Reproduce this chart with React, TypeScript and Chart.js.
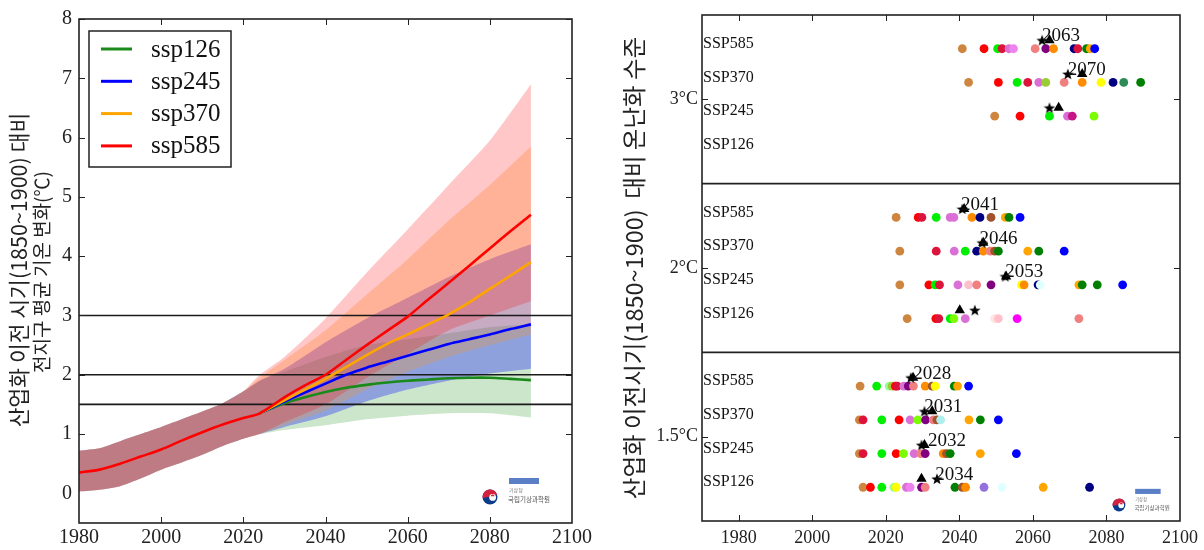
import React, { useEffect, useRef } from 'react';
import { Chart, registerables } from 'chart.js';
Chart.register(...registerables);

const SERIF = "'Liberation Serif', 'Times New Roman', serif";
const KR = "'Noto Sans CJK KR', 'Noto Sans', sans-serif";

// ---------------- Left chart data ----------------
const scenarioNames = ['ssp126', 'ssp245', 'ssp370', 'ssp585'];
const refLevels = [1.5, 2, 3];
const leftYTicks = [0, 1, 2, 3, 4, 5, 6, 7, 8];

const histYears = [1980, 1985, 1990, 1995, 2000, 2005, 2010, 2015, 2020, 2024];
const histMean = [0.35, 0.4, 0.5, 0.62, 0.74, 0.89, 1.03, 1.16, 1.27, 1.35];
const histLow = [0.03, 0.06, 0.12, 0.25, 0.4, 0.52, 0.65, 0.8, 0.92, 1.0];
const histHigh = [0.72, 0.76, 0.88, 1.0, 1.12, 1.25, 1.38, 1.52, 1.72, 1.9];

const scenYears = [2024, 2030, 2035, 2040, 2045, 2050, 2055, 2060, 2065, 2070, 2075, 2080, 2085, 2090];
const ssp126Mean = [1.35, 1.52, 1.62, 1.71, 1.78, 1.83, 1.87, 1.9, 1.92, 1.94, 1.95, 1.95, 1.93, 1.91];
const ssp245Mean = [1.35, 1.55, 1.7, 1.85, 2.0, 2.12, 2.22, 2.32, 2.42, 2.52, 2.6, 2.68, 2.77, 2.85];
const ssp370Mean = [1.35, 1.57, 1.75, 1.93, 2.13, 2.33, 2.52, 2.68, 2.85, 3.02, 3.22, 3.45, 3.67, 3.9];
const ssp585Mean = [1.35, 1.62, 1.82, 2.0, 2.25, 2.5, 2.74, 2.98, 3.27, 3.55, 3.84, 4.13, 4.42, 4.7];

const bandYears = [2024, 2030, 2040, 2050, 2060, 2070, 2080, 2090];
const ssp126Low = [1.0, 1.07, 1.15, 1.25, 1.31, 1.35, 1.35, 1.28];
const ssp126High = [1.9, 2.05, 2.3, 2.5, 2.6, 2.7, 2.8, 2.85];
const ssp245Low = [1.0, 1.12, 1.3, 1.55, 1.75, 1.9, 2.02, 2.1];
const ssp245High = [1.9, 2.1, 2.55, 2.95, 3.3, 3.65, 3.95, 4.2];
const ssp370Low = [1.0, 1.15, 1.4, 1.75, 2.05, 2.3, 2.5, 2.68];
const ssp370High = [1.95, 2.25, 2.75, 3.35, 3.95, 4.6, 5.2, 5.85];
const ssp585Low = [1.0, 1.2, 1.5, 1.95, 2.35, 2.75, 3.0, 3.24];
const ssp585High = [2.0, 2.3, 2.95, 3.72, 4.45, 5.2, 5.95, 6.9];

const leftTitle = ['산업화 이전 시기(1850~1900) 대비', '전지구 평균 기온 변화(℃)'];

// ---------------- Right chart data ----------------
const rowLabels = ['SSP585', 'SSP370', 'SSP245', 'SSP126'];
const levelLabels = ['1.5°C', '2°C', '3°C'];
const rightXTicks = [1980, 2000, 2020, 2040, 2060, 2080, 2100];
const rightTitle = '산업화 이전시기(1850~1900)  대비 온난화 수준';

const PERU = '#cd853f', RED = '#ff0000', LIME = '#00ee00', CRIM = '#dc143c', ORCH = '#da70d6',
  VIOL = '#ee82ee', LCOR = '#f08080', PURP = '#800080', DORG = '#ff8c00', ORG = '#ffa500',
  NAVY = '#000080', GRN = '#008000', SEAG = '#2e8b57', YEL = '#ffff00', BLUE = '#0000ff',
  LAWN = '#7cfc00', MVR = '#c71585', SIEN = '#a0522d', PINK = '#ffc0cb', MROSE = '#ffe4e1',
  MAG = '#ff00ff', MPUR = '#9370db', LCYAN = '#e0ffff', PTURQ = '#afeeee', PGRN = '#98fb98',
  YGRN = '#9acd32';

// 3°C
const y30_585 = [2040.8, 2046.7, 2050.4, 2051.6, 2053.5, 2054.7, 2060.6, 2063.5, 2065.6, 2071.2, 2072.2, 2074.6, 2075.6, 2076.8];
const c30_585 = [PERU, RED, LIME, CRIM, ORCH, VIOL, LCOR, PURP, DORG, NAVY, CRIM, GRN, ORG, BLUE];
const y30_370 = [2042.5, 2050.6, 2055.7, 2058.6, 2061.6, 2063.5, 2068.5, 2073.4, 2078.5, 2081.8, 2084.7, 2089.3];
const c30_370 = [PERU, RED, LIME, CRIM, ORCH, YGRN, LCOR, DORG, YEL, NAVY, SEAG, GRN];
const y30_245 = [2049.6, 2056.5, 2064.5, 2069.4, 2070.7, 2076.6];
const c30_245 = [PERU, RED, LIME, ORCH, MVR, LAWN];
const y30_126: number[] = [];
const c30_126: string[] = [];
// 2°C
const y20_585 = [2022.8, 2028.8, 2029.8, 2033.7, 2037.5, 2038.5, 2043.4, 2045.6, 2048.6, 2052.5, 2053.5, 2056.5];
const c20_585 = [PERU, RED, CRIM, LIME, ORCH, ORCH, DORG, NAVY, SIEN, ORG, GRN, BLUE];
const y20_370 = [2023.8, 2033.7, 2038.6, 2041.6, 2044.7, 2046.5, 2048.4, 2049.6, 2050.6, 2058.6, 2061.6, 2068.5];
const c20_370 = [PERU, CRIM, ORCH, LIME, NAVY, DORG, LCOR, SIEN, GRN, ORG, GRN, BLUE];
const y20_245 = [2023.8, 2031.7, 2033.4, 2034.6, 2039.6, 2042.5, 2044.7, 2048.6, 2056.9, 2057.6, 2061.4, 2062.0, 2072.5, 2073.4, 2077.5, 2084.4];
const c20_245 = [PERU, RED, LIME, CRIM, ORCH, PINK, LCOR, PURP, YEL, DORG, NAVY, LCYAN, ORG, GRN, GRN, BLUE];
const y20_126 = [2025.8, 2033.6, 2034.4, 2037.5, 2038.5, 2041.6, 2049.6, 2050.6, 2055.7, 2072.5];
const c20_126 = [PERU, RED, CRIM, LIME, LAWN, ORCH, MROSE, PINK, MAG, LCOR];
// 1.5°C
const y15_585 = [2013.0, 2017.5, 2020.9, 2021.7, 2022.6, 2023.1, 2024.9, 2026.1, 2027.5, 2030.7, 2032.6, 2033.4, 2038.6, 2039.5, 2042.5];
const c15_585 = [PERU, LIME, PGRN, YGRN, RED, CRIM, ORCH, PURP, LCOR, DORG, SIEN, YEL, GRN, ORG, BLUE];
const y15_370 = [2012.8, 2013.8, 2018.9, 2023.6, 2026.6, 2028.7, 2030.8, 2032.9, 2033.9, 2034.9, 2042.6, 2045.7, 2050.6];
const c15_370 = [PERU, CRIM, LIME, RED, ORCH, LAWN, PURP, LCOR, SIEN, PTURQ, ORG, GRN, BLUE];
const y15_245 = [2012.8, 2013.8, 2018.9, 2022.8, 2024.8, 2027.7, 2029.5, 2030.7, 2035.6, 2036.5, 2037.5, 2045.7, 2055.5];
const c15_245 = [PERU, CRIM, LIME, RED, LAWN, ORCH, LCOR, PURP, DORG, SIEN, GRN, ORG, BLUE];
const y15_126 = [2013.8, 2015.8, 2018.9, 2022.2, 2022.8, 2025.6, 2026.6, 2029.7, 2030.7, 2038.8, 2040.8, 2041.7, 2046.7, 2051.6, 2062.8, 2075.4];
const c15_126 = [PERU, RED, LIME, PGRN, YEL, ORCH, VIOL, PURP, LCOR, GRN, SIEN, DORG, MPUR, LCYAN, ORG, NAVY];

// markers per level, order SSP585, SSP370, SSP245, SSP126
const star15 = [2026.8, 2030.5, 2029.7, 2033.9];
const tri15 = [2027.4, 2032.6, 2030.5, 2029.7];
const lab15 = [2028, 2031, 2032, 2034];
const star20 = [2040.8, 2046.2, 2052.5, 2044.2];
const tri20 = [2041.3, 2046.5, 2052.7, 2040.1];
const lab20 = [2041, 2046, 2053, null];
const star30 = [2062.5, 2069.5, 2064.5, null];
const tri30 = [2064.5, 2073.4, 2067.0, null];
const lab30 = [2063, 2070, null, null];

const dotYears = [[y15_585, y15_370, y15_245, y15_126], [y20_585, y20_370, y20_245, y20_126], [y30_585, y30_370, y30_245, y30_126]];
const dotColors = [[c15_585, c15_370, c15_245, c15_126], [c20_585, c20_370, c20_245, c20_126], [c30_585, c30_370, c30_245, c30_126]];
const starYears = [star15, star20, star30];
const triYears = [tri15, tri20, tri30];
const labYears = [lab15, lab20, lab30];

// ---------------- helpers ----------------
const rowY = (level: number, s: number) => level * 5 + (4 - s);
const MARK_OFF = 0.25;

function makeStar(size: number) {
  const c = document.createElement('canvas');
  c.width = size; c.height = size;
  const g = c.getContext('2d')!;
  const cx = size / 2, cy = size / 2 + 0.5, R = size / 2, r = R * 0.42;
  g.beginPath();
  for (let i = 0; i < 10; i++) {
    const rad = i % 2 === 0 ? R : r;
    const a = -Math.PI / 2 + (i * Math.PI) / 5;
    const x = cx + rad * Math.cos(a), y = cy + rad * Math.sin(a);
    if (i === 0) g.moveTo(x, y); else g.lineTo(x, y);
  }
  g.closePath();
  g.fillStyle = '#000';
  g.fill();
  return c;
}

function drawLogo(ctx: CanvasRenderingContext2D, x: number, y: number, s: number) {
  ctx.save();
  const r = 7.5 * s;
  ctx.fillStyle = '#0b3c8c';
  ctx.beginPath(); ctx.arc(x, y, r, 0, Math.PI * 2); ctx.fill();
  ctx.fillStyle = '#d4213d';
  ctx.beginPath(); ctx.arc(x, y, r, Math.PI * 0.95, Math.PI * 1.9); ctx.closePath(); ctx.fill();
  ctx.fillStyle = '#fff';
  ctx.beginPath(); ctx.arc(x + r * 0.35, y + r * 0.05, r * 0.45, 0, Math.PI * 2); ctx.fill();
  ctx.fillStyle = '#d4213d';
  ctx.beginPath(); ctx.arc(x + r * 0.35, y - r * 0.1, r * 0.25, Math.PI, Math.PI * 2); ctx.fill();
  ctx.fillStyle = '#5b7fc7';
  ctx.fillRect(x + 19 * s, y - 19 * s, 30 * s, 6 * s);
  ctx.fillStyle = '#777';
  ctx.font = `${5 * s}px ${KR}`;
  ctx.textBaseline = 'middle';
  ctx.fillText('기상청', x + 19 * s, y - 7 * s);
  ctx.fillStyle = '#555';
  ctx.font = `${6.5 * s}px ${KR}`;
  ctx.fillText('국립기상과학원', x + 18 * s, y + 3 * s);
  ctx.restore();
}

function drawFrameAndTicks(chart: any, xVals: number[], yVals: number[], len: number) {
  const { ctx, chartArea: a, scales } = chart;
  ctx.save();
  ctx.strokeStyle = '#222';
  ctx.lineWidth = 1;
  ctx.beginPath();
  for (const v of xVals) {
    const px = Math.round(scales.x.getPixelForValue(v)) + 0.5;
    ctx.moveTo(px, a.bottom); ctx.lineTo(px, a.bottom - len);
    ctx.moveTo(px, a.top); ctx.lineTo(px, a.top + len);
  }
  for (const v of yVals) {
    const py = Math.round(scales.y.getPixelForValue(v)) + 0.5;
    ctx.moveTo(a.left, py); ctx.lineTo(a.left + len, py);
    ctx.moveTo(a.right, py); ctx.lineTo(a.right - len, py);
  }
  ctx.stroke();
  ctx.lineWidth = 1.6;
  ctx.strokeStyle = '#222';
  ctx.strokeRect(a.left, a.top, a.right - a.left, a.bottom - a.top);
  ctx.restore();
}

function drawVerticalText(ctx: CanvasRenderingContext2D, text: string, x: number, y: number, font: string) {
  ctx.save();
  ctx.translate(x, y);
  ctx.rotate(-Math.PI / 2);
  ctx.font = font;
  ctx.fillStyle = '#222';
  ctx.textAlign = 'center';
  ctx.textBaseline = 'middle';
  ctx.fillText(text, 0, 0);
  ctx.restore();
}

// ---------------- Left chart ----------------
const lineColors = ['#1a8a1a', '#0000ff', '#ffa500', '#ff0000'];
const bandColors = ['rgba(0,128,0,0.2)', 'rgba(0,0,255,0.3)', 'rgba(255,150,20,0.26)', 'rgba(255,0,0,0.22)'];

function pts(xs: number[], ys: number[]) {
  return xs.map((x, i) => ({ x, y: ys[i] }));
}

function leftConfig(): any {
  const means = [ssp126Mean, ssp245Mean, ssp370Mean, ssp585Mean];
  const lows = [ssp126Low, ssp245Low, ssp370Low, ssp585Low];
  const highs = [ssp126High, ssp245High, ssp370High, ssp585High];
  const hY = histYears.slice(0, -1);
  const datasets: any[] = [];
  // lines: index 0 = ssp585 (on top)
  for (let k = 3; k >= 0; k--) {
    const data = k === 3
      ? [...pts(histYears, histMean), ...pts(scenYears.slice(1), ssp585Mean.slice(1))]
      : pts(scenYears, means[k]);
    datasets.push({
      label: scenarioNames[k], data, borderColor: lineColors[k], borderWidth: 2.6,
      pointRadius: 0, fill: false, tension: 0.25, order: 0,
    });
  }
  // bands: ssp585 first so it is painted last (filler paints from the last index back)
  for (let k = 3; k >= 0; k--) {
    const lowIdx = datasets.length;
    datasets.push({
      label: scenarioNames[k] + ' low',
      data: [...pts(hY, histLow.slice(0, -1)), ...pts(bandYears, lows[k])],
      borderColor: 'rgba(0,0,0,0)', borderWidth: 0, pointRadius: 0, fill: false, tension: 0.2, order: 1,
    });
    datasets.push({
      label: scenarioNames[k] + ' high',
      data: [...pts(hY, histHigh.slice(0, -1)), ...pts(bandYears, highs[k])],
      borderColor: 'rgba(0,0,0,0)', borderWidth: 0, pointRadius: 0, fill: lowIdx,
      backgroundColor: bandColors[k], tension: 0.2, order: 1,
    });
  }

  const decor = {
    id: 'leftDecor',
    beforeDatasetsDraw(chart: any) {
      const { ctx, chartArea: a, scales } = chart;
      ctx.save();
      ctx.strokeStyle = '#1a1a1a';
      ctx.lineWidth = 1.6;
      for (const v of refLevels) {
        const py = scales.y.getPixelForValue(v);
        ctx.beginPath(); ctx.moveTo(a.left, py); ctx.lineTo(a.right, py); ctx.stroke();
      }
      ctx.restore();
    },
    afterDraw(chart: any) {
      const { ctx } = chart;
      drawFrameAndTicks(chart, [2000, 2020, 2040, 2060, 2080], leftYTicks.slice(1), 6);
      // legend
      ctx.save();
      ctx.fillStyle = '#fff';
      ctx.fillRect(89, 31, 142, 136);
      ctx.strokeStyle = '#222';
      ctx.lineWidth = 1.5;
      ctx.strokeRect(89, 31, 142, 136);
      ctx.font = `25px ${SERIF}`;
      ctx.textBaseline = 'middle';
      for (let k = 0; k < 4; k++) {
        const y = 49 + k * 32.3;
        ctx.strokeStyle = lineColors[k];
        ctx.lineWidth = 3;
        ctx.beginPath(); ctx.moveTo(101, y); ctx.lineTo(132, y); ctx.stroke();
        ctx.fillStyle = '#111';
        ctx.fillText(scenarioNames[k], 151, y + 1);
      }
      ctx.restore();
      drawVerticalText(ctx, leftTitle[0], 19, 270, `21.5px ${KR}`);
      drawVerticalText(ctx, leftTitle[1], 42, 272, `19px ${KR}`);
      drawLogo(ctx, 490, 497, 1);
    },
  };

  return {
    type: 'line',
    data: { datasets },
    options: {
      animation: false,
      responsive: false,
      events: [],
      layout: { padding: { top: 19, right: 28, left: 0, bottom: 0 } },
      plugins: { legend: { display: false }, tooltip: { enabled: false }, filler: { drawTime: 'beforeDatasetsDraw' } },
      scales: {
        x: {
          type: 'linear', min: 1980, max: 2100,
          afterBuildTicks: (s: any) => { s.ticks = [1980, 2000, 2020, 2040, 2060, 2080, 2100].map((v) => ({ value: v })); },
          afterFit: (s: any) => { s.height = 27; },
          ticks: { callback: (v: any) => String(v), font: { family: SERIF, size: 20 }, color: '#222', padding: 3, maxRotation: 0, autoSkip: false },
          grid: { display: false, drawTicks: false },
          border: { display: false },
        },
        y: {
          type: 'linear', min: -0.5, max: 8,
          afterBuildTicks: (s: any) => { s.ticks = leftYTicks.map((v) => ({ value: v })); },
          afterFit: (s: any) => { s.width = 79; },
          ticks: { callback: (v: any) => String(v), font: { family: SERIF, size: 20 }, color: '#222', padding: 7, autoSkip: false },
          grid: { display: false, drawTicks: false },
          border: { display: false },
        },
      },
    },
    plugins: [decor],
  };
}

// ---------------- Right chart ----------------
function rightConfig(): any {
  const star = makeStar(12);
  const datasets: any[] = [];
  const starPts: any[] = [];
  const triPts: any[] = [];
  for (let L = 0; L < 3; L++) {
    for (let s = 0; s < 4; s++) {
      const yv = rowY(L, s);
      if (starYears[L][s] != null) starPts.push({ x: starYears[L][s], y: yv + MARK_OFF });
      if (triYears[L][s] != null) triPts.push({ x: triYears[L][s], y: yv + MARK_OFF });
    }
  }
  datasets.push({ label: 'star', data: starPts, pointStyle: star, pointRadius: 6, showLine: false, order: 0 });
  datasets.push({ label: 'tri', data: triPts, pointStyle: 'triangle', pointRadius: 6, pointBackgroundColor: '#000', pointBorderColor: '#000', pointBorderWidth: 0, showLine: false, order: 0 });
  for (let L = 0; L < 3; L++) {
    for (let s = 0; s < 4; s++) {
      const yv = rowY(L, s);
      datasets.push({
        label: `${levelLabels[L]} ${rowLabels[s]}`,
        data: dotYears[L][s].map((x) => ({ x, y: yv })),
        pointBackgroundColor: dotColors[L][s],
        pointBorderWidth: 0,
        pointBorderColor: 'rgba(0,0,0,0)',
        pointRadius: 4.4,
        showLine: false,
        order: 1,
      });
    }
  }

  const decor = {
    id: 'rightDecor',
    afterDatasetsDraw(chart: any) {
      const { ctx, scales } = chart;
      ctx.save();
      ctx.font = `19px ${SERIF}`;
      ctx.fillStyle = '#111';
      ctx.textAlign = 'left';
      ctx.textBaseline = 'alphabetic';
      for (let L = 0; L < 3; L++) {
        for (let s = 0; s < 4; s++) {
          const lab = labYears[L][s];
          if (lab == null) continue;
          const px = scales.x.getPixelForValue(lab) - 2;
          const py = scales.y.getPixelForValue(rowY(L, s) + MARK_OFF) + 1;
          ctx.fillText(String(lab), px, py);
        }
      }
      ctx.restore();
    },
    afterDraw(chart: any) {
      const { ctx, chartArea: a, scales } = chart;
      ctx.save();
      ctx.strokeStyle = '#222';
      ctx.lineWidth = 1.6;
      for (const v of [5, 10]) {
        const py = scales.y.getPixelForValue(v);
        ctx.beginPath(); ctx.moveTo(a.left, py); ctx.lineTo(a.right, py); ctx.stroke();
      }
      ctx.font = `16px ${SERIF}`;
      ctx.fillStyle = '#111';
      ctx.textBaseline = 'middle';
      ctx.textAlign = 'left';
      for (let L = 0; L < 3; L++) {
        for (let s = 0; s < 4; s++) {
          const py = scales.y.getPixelForValue(rowY(L, s)) - 5;
          ctx.fillText(rowLabels[s], a.left + 1, py);
        }
      }
      ctx.restore();
      drawFrameAndTicks(chart, rightXTicks.slice(0, -1), [2.5, 7.5, 12.5], 6);
      drawVerticalText(ctx, rightTitle, 34, 268, `23.5px ${KR}`);
      drawLogo(ctx, 519, 505, 0.85);
    },
  };

  return {
    type: 'scatter',
    data: { datasets },
    options: {
      animation: false,
      responsive: false,
      events: [],
      layout: { padding: { top: 15, right: 24, left: 0, bottom: 0 } },
      plugins: { legend: { display: false }, tooltip: { enabled: false } },
      scales: {
        x: {
          type: 'linear', min: 1970, max: 2100,
          afterBuildTicks: (s: any) => { s.ticks = rightXTicks.map((v) => ({ value: v })); },
          afterFit: (s: any) => { s.height = 29; },
          ticks: { callback: (v: any) => String(v), font: { family: SERIF, size: 18 }, color: '#222', padding: 6, maxRotation: 0, autoSkip: false },
          grid: { display: false, drawTicks: false },
          border: { display: false },
        },
        y: {
          type: 'linear', min: 0, max: 15,
          afterBuildTicks: (s: any) => { s.ticks = [2.5, 7.5, 12.5].map((v) => ({ value: v })); },
          afterFit: (s: any) => { s.width = 102; },
          ticks: { callback: (_v: any, i: number) => levelLabels[i], font: { family: SERIF, size: 18 }, color: '#222', padding: 4, autoSkip: false },
          grid: { display: false, drawTicks: false },
          border: { display: false },
        },
      },
    },
    plugins: [decor],
  };
}

export default function App() {
  const leftRef = useRef<HTMLCanvasElement>(null);
  const rightRef = useRef<HTMLCanvasElement>(null);
  useEffect(() => {
    const c1 = new Chart(leftRef.current!, leftConfig());
    const c2 = new Chart(rightRef.current!, rightConfig());
    return () => { c1.destroy(); c2.destroy(); };
  }, []);
  return (
    <div style={{ position: 'absolute', left: 0, top: 0, width: 1204, height: 550, background: '#fff', overflow: 'hidden' }}>
      <canvas ref={leftRef} width={600} height={550} style={{ position: 'absolute', left: 0, top: 0, width: 600, height: 550 }} />
      <canvas ref={rightRef} width={604} height={550} style={{ position: 'absolute', left: 600, top: 0, width: 604, height: 550 }} />
    </div>
  );
}
